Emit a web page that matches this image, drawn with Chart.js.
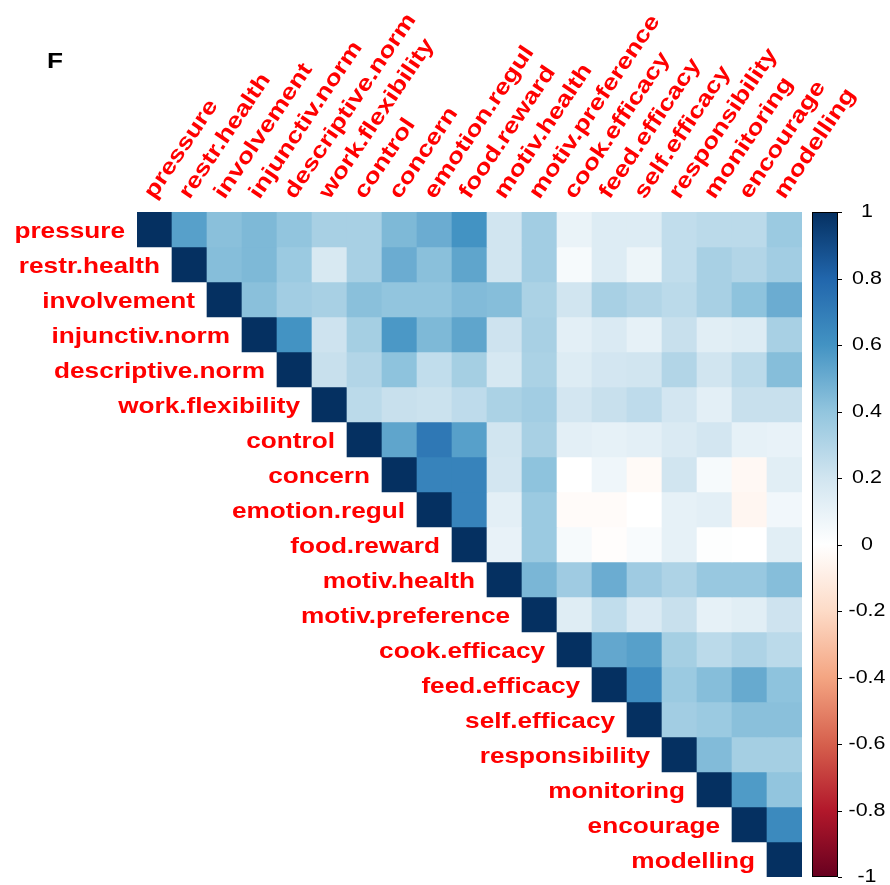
<!DOCTYPE html>
<html>
<head>
<meta charset="utf-8">
<script src="https://cdn.jsdelivr.net/npm/chart.js@4.4.1/dist/chart.umd.min.js"></script>
<style>
  html, body { margin: 0; padding: 0; background: #ffffff; overflow: hidden; }
  #wrap { width: 890px; height: 885px; position: relative; }
</style>
</head>
<body>
<div id="wrap"><canvas id="corr" width="890" height="885"></canvas></div>
<script>
// Variables in plotting order (rows top to bottom, columns left to right)
const variables = [
  'pressure', 'restr.health', 'involvement', 'injunctiv.norm', 'descriptive.norm',
  'work.flexibility', 'control', 'concern', 'emotion.regul', 'food.reward',
  'motiv.health', 'motiv.preference', 'cook.efficacy', 'feed.efficacy',
  'self.efficacy', 'responsibility', 'monitoring', 'encourage', 'modelling'
];

// Upper triangle: row i lists r(i, j) for j = i+1 .. last
const pressureRow      = [0.55, 0.42, 0.45, 0.40, 0.33, 0.33, 0.45, 0.50, 0.60, 0.20, 0.35, 0.09, 0.15, 0.15, 0.25, 0.27, 0.27, 0.37];
const restrHealthRow   = [0.43, 0.45, 0.37, 0.17, 0.33, 0.50, 0.42, 0.53, 0.20, 0.35, 0.04, 0.15, 0.08, 0.25, 0.33, 0.30, 0.35];
const involvementRow   = [0.42, 0.35, 0.33, 0.42, 0.40, 0.40, 0.44, 0.43, 0.32, 0.20, 0.33, 0.30, 0.27, 0.33, 0.41, 0.50];
const injunctivRow     = [0.60, 0.21, 0.34, 0.58, 0.45, 0.53, 0.21, 0.33, 0.12, 0.16, 0.11, 0.23, 0.13, 0.15, 0.33];
const descriptiveRow   = [0.23, 0.30, 0.41, 0.25, 0.34, 0.18, 0.32, 0.15, 0.19, 0.20, 0.30, 0.20, 0.27, 0.43];
const workFlexRow      = [0.27, 0.23, 0.22, 0.26, 0.32, 0.35, 0.19, 0.23, 0.26, 0.19, 0.12, 0.23, 0.23];
const controlRow       = [0.53, 0.72, 0.55, 0.20, 0.33, 0.12, 0.11, 0.12, 0.16, 0.19, 0.11, 0.10];
const concernRow       = [0.67, 0.67, 0.19, 0.41, 0.00, 0.07, -0.03, 0.20, 0.04, -0.04, 0.13];
const emotionRegulRow  = [0.67, 0.12, 0.37, -0.02, -0.02, 0.00, 0.11, 0.12, -0.05, 0.06];
const foodRewardRow    = [0.10, 0.37, 0.04, -0.01, 0.03, 0.11, 0.01, 0.00, 0.13];
const motivHealthRow   = [0.46, 0.36, 0.50, 0.36, 0.31, 0.38, 0.38, 0.43];
const motivPrefRow     = [0.14, 0.25, 0.16, 0.23, 0.11, 0.13, 0.21];
const cookEffRow       = [0.52, 0.55, 0.34, 0.27, 0.31, 0.27];
const feedEffRow       = [0.63, 0.37, 0.43, 0.51, 0.41];
const selfEffRow       = [0.35, 0.37, 0.42, 0.42];
const responsibilityRow = [0.44, 0.34, 0.34];
const monitoringRow    = [0.57, 0.40];
const encourageRow     = [0.64];
const modellingRow     = [];

const upperRows = [
  pressureRow, restrHealthRow, involvementRow, injunctivRow, descriptiveRow,
  workFlexRow, controlRow, concernRow, emotionRegulRow, foodRewardRow,
  motivHealthRow, motivPrefRow, cookEffRow, feedEffRow, selfEffRow,
  responsibilityRow, monitoringRow, encourageRow, modellingRow
];

// Colour legend ticks
const legendTicks = [1, 0.8, 0.6, 0.4, 0.2, 0, -0.2, -0.4, -0.6, -0.8, -1];

// Diverging red-white-blue ramp, from -1 to 1
const rampColors = ['#67001F', '#B2182B', '#D6604D', '#F4A582', '#FDDBC7', '#FFFFFF',
                    '#D1E5F0', '#92C5DE', '#4393C3', '#2166AC', '#053061'];

const ROW_STRETCH = 1.19;
const COL_STRETCH = 1.23;
const FONT_FAMILY = '"Liberation Sans", Arial, Helvetica, sans-serif';

function hexToRgb(h) {
  const n = parseInt(h.slice(1), 16);
  return [(n >> 16) & 255, (n >> 8) & 255, n & 255];
}
function corrColor(v) {
  const t = (Math.max(-1, Math.min(1, v)) + 1) / 2 * (rampColors.length - 1);
  const k = Math.min(Math.floor(t), rampColors.length - 2);
  const f = t - k;
  const a = hexToRgb(rampColors[k]), b = hexToRgb(rampColors[k + 1]);
  const c = a.map((x, idx) => Math.round(x + (b[idx] - x) * f));
  return `rgb(${c[0]},${c[1]},${c[2]})`;
}
function corrValue(i, j) {
  if (i === j) return 1;
  return upperRows[i][j - i - 1];
}

// One floating-bar dataset per matrix row; each bar spans one row band
const datasets = variables.map((name, i) => ({
  label: name,
  data: variables.map((_, j) => (j >= i ? [i - 0.5, i + 0.5] : null)),
  backgroundColor: variables.map((_, j) => (j >= i ? corrColor(corrValue(i, j)) : 'rgba(0,0,0,0)')),
  borderWidth: 0,
  barPercentage: 1,
  categoryPercentage: 1,
  grouped: false
}));

function drawStretched(ctx, text, x, y, angle, stretch, align, baseline) {
  ctx.save();
  ctx.translate(x, y);
  if (angle) ctx.rotate(angle);
  ctx.scale(stretch, 1);
  ctx.textAlign = align;
  ctx.textBaseline = baseline || 'alphabetic';
  ctx.fillText(text, 0, 0);
  ctx.restore();
}

const labelsPlugin = {
  id: 'corrLabels',
  afterDraw(chart) {
    const ctx = chart.ctx;
    const xs = chart.scales.x, ys = chart.scales.y, cb = chart.scales.cb;
    const area = chart.chartArea;
    const cellW = xs.getPixelForValue(1) - xs.getPixelForValue(0);

    // Panel letter
    ctx.fillStyle = '#000000';
    ctx.font = `bold 22px ${FONT_FAMILY}`;
    drawStretched(ctx, 'F', 47, 68, 0, ROW_STRETCH, 'left');

    // Row labels, right-aligned against each diagonal cell
    ctx.fillStyle = '#FF0000';
    ctx.font = `bold 22px ${FONT_FAMILY}`;
    variables.forEach((name, i) => {
      const xEnd = xs.getPixelForValue(i) - cellW / 2 - 12;
      const y = ys.getPixelForValue(i) + 8.5;
      drawStretched(ctx, name, xEnd, y, 0, ROW_STRETCH, 'right');
    });

    // Column labels, rotated above the grid
    const ang = -56 * Math.PI / 180;
    variables.forEach((name, j) => {
      const x = xs.getPixelForValue(j);
      const y = area.top - 12;
      drawStretched(ctx, name, x, y, ang, COL_STRETCH, 'left');
    });

    // Colour legend bar
    const barL = area.right + 10, barW = 26;
    const yTop = cb.getPixelForValue(1), yBot = cb.getPixelForValue(-1);
    const grad = ctx.createLinearGradient(0, yTop, 0, yBot);
    rampColors.slice().reverse().forEach((c, k) => grad.addColorStop(k / (rampColors.length - 1), c));
    ctx.fillStyle = grad;
    ctx.fillRect(barL, yTop, barW, yBot - yTop);
    ctx.strokeStyle = '#000000';
    ctx.lineWidth = 1;
    ctx.strokeRect(barL + 0.5, yTop + 0.5, barW - 1, yBot - yTop - 1);

    ctx.font = `18px ${FONT_FAMILY}`;
    ctx.fillStyle = '#000000';
    legendTicks.forEach(v => {
      const y = Math.round(cb.getPixelForValue(v)) + 0.5;
      ctx.beginPath();
      ctx.moveTo(barL + barW, y);
      ctx.lineTo(barL + barW + 4, y);
      ctx.stroke();
      drawStretched(ctx, String(v), area.right + 65, y, 0, ROW_STRETCH, 'center', 'middle');
    });
  }
};

new Chart(document.getElementById('corr'), {
  type: 'bar',
  data: { labels: variables, datasets },
  options: {
    responsive: false,
    animation: false,
    devicePixelRatio: 1,
    layout: { padding: { left: 137, top: 212, right: 88, bottom: 8 } },
    plugins: { legend: { display: false }, tooltip: { enabled: false }, title: { display: false } },
    scales: {
      x: { type: 'category', display: false, offset: true, grid: { display: false } },
      y: { type: 'linear', display: false, min: -0.5, max: 18.5, reverse: true, grid: { display: false } },
      cb: { type: 'linear', axis: 'y', display: false, min: -1, max: 1 }
    }
  },
  plugins: [labelsPlugin]
});
</script>
</body>
</html>
